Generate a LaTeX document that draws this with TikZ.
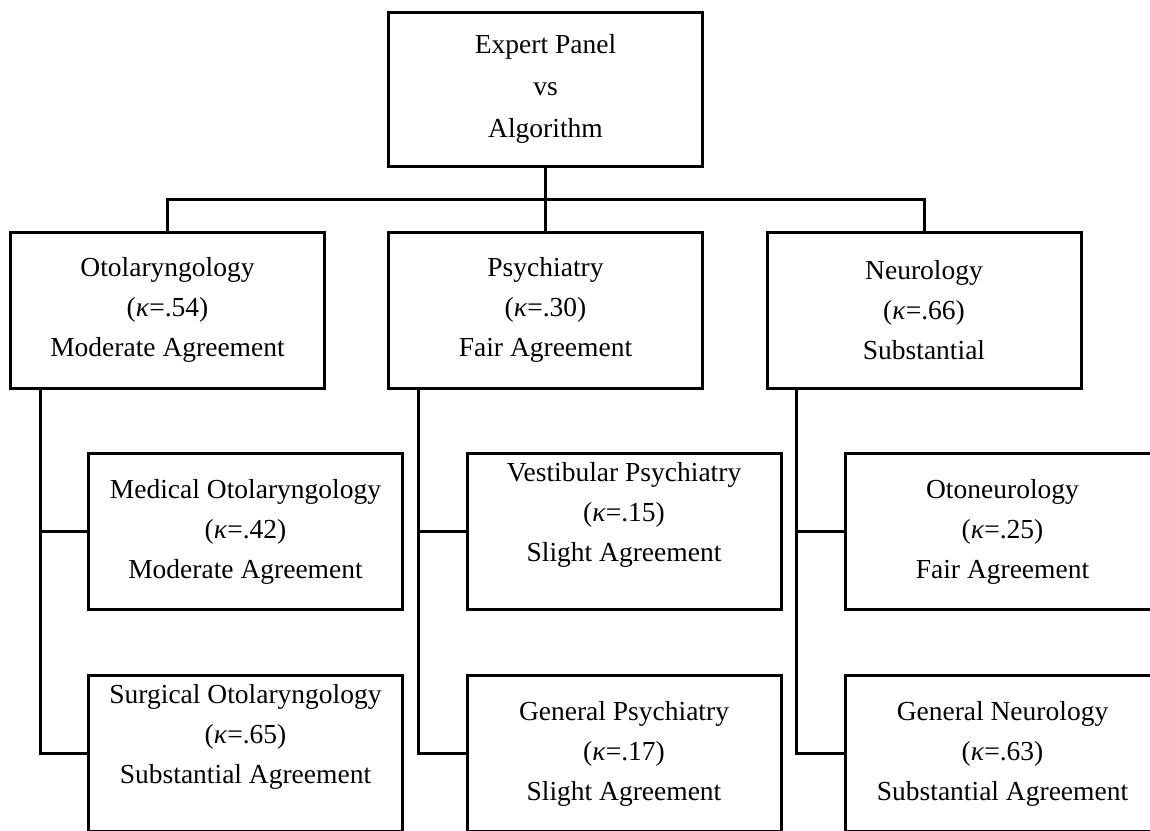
\documentclass[tikz,border=0pt]{standalone}
\usepackage{fontspec}
\setmainfont{Liberation Serif}
\newcommand{\kap}[1]{(\textit{κ}=.#1)}
\tikzset{
	box/.style={draw, line width=3pt, minimum width=314pt, minimum height=156pt, inner sep=0pt, align=center, font=\fontsize{27.5}{40}\selectfont},
	link/.style={line width=3pt}
}
\begin{document}
\begin{tikzpicture}[x=1pt,y=-1pt]
		\clip (0,0) rectangle (1150,830);

		\node[box, minimum height=154pt, font=\fontsize{27.5}{42}\selectfont] (top) at (545.5,89) {Expert Panel\\vs\\Algorithm};
		\coordinate (bus) at (545.5,199);

		\node[box] (oto) at (167.5,310) {Otolaryngology\\\kap{54}\\Moderate Agreement};
		\node[box] (psy) at (545.5,310) {Psychiatry\\\kap{30}\\Fair Agreement};
		\node[box] (neu) at (924,310) {Neurology\\\kap{66}\\Substantial};

		\node[box] (med) at (245.5,531.5) {Medical Otolaryngology\\\kap{42}\\Moderate Agreement};
		\node[box] (sur) at (245.5,753.5) {Surgical Otolaryngology\\\kap{65}\\Substantial Agreement\\~};

		\node[box] (ves) at (624,531.5) {Vestibular Psychiatry\\\kap{15}\\Slight Agreement\\~};
		\node[box] (gps) at (624,753.5) {General Psychiatry\\\kap{17}\\Slight Agreement};

		\node[box] (otn) at (1002.5,531.5) {Otoneurology\\\kap{25}\\Fair Agreement};
		\node[box] (gne) at (1002.5,753.5) {General Neurology\\\kap{63}\\Substantial Agreement};

		\draw[link] (top.south) -- (psy.north);
		\draw[link] (oto.north) |- (bus) -| (neu.north);

		\draw[link] ([xshift=31pt]oto.south west) |- (sur.west);
		\draw[link] ([xshift=31pt]oto.south west |- med.west) -- (med.west);

		\draw[link] ([xshift=31pt]psy.south west) |- (gps.west);
		\draw[link] ([xshift=31pt]psy.south west |- ves.west) -- (ves.west);

		\draw[link] ([xshift=31pt]neu.south west) |- (gne.west);
		\draw[link] ([xshift=31pt]neu.south west |- otn.west) -- (otn.west);
	\end{tikzpicture}
\end{document}
